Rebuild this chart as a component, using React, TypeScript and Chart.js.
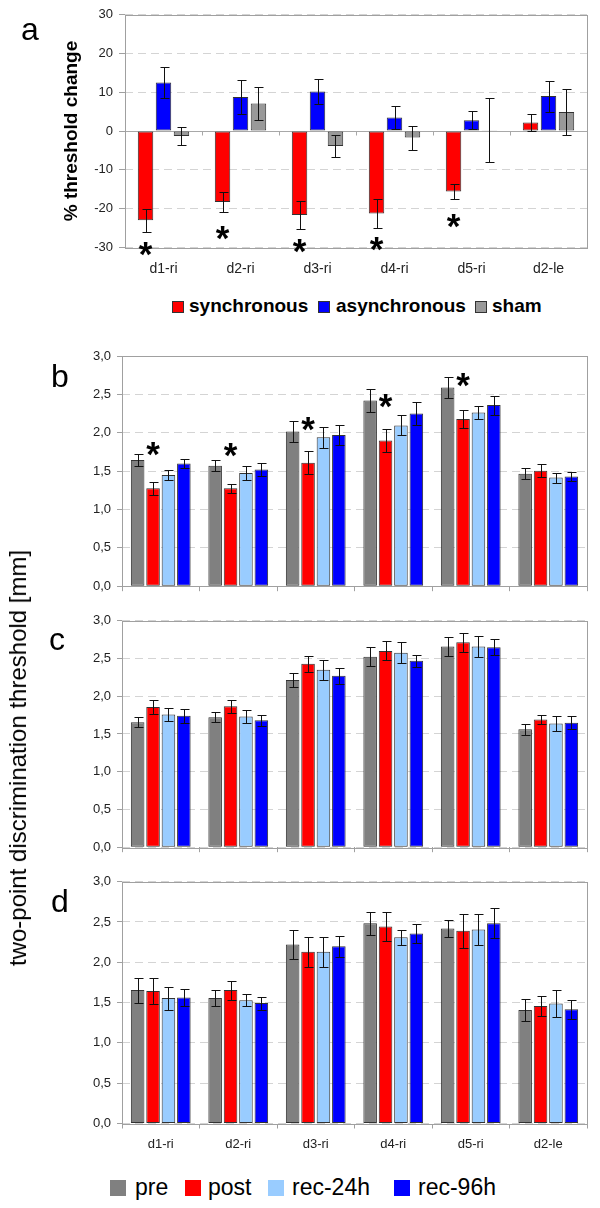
import React, { useEffect, useRef } from 'react';
import { Chart, registerables } from 'chart.js';

Chart.register(...registerables);
Chart.defaults.font.family = '"Liberation Sans", Arial, sans-serif';

// ---------- data ----------
const categories = ['d1-ri', 'd2-ri', 'd3-ri', 'd4-ri', 'd5-ri', 'd2-le'];

// panel a: % threshold change
const syncA = [-23.0, -18.3, -21.7, -21.3, -15.6, 2.2];
const syncErrA = [3.0, 2.6, 3.7, 3.8, 2.0, 2.3];
const asyncA = [12.5, 8.75, 10.2, 3.5, 2.8, 9.0];
const asyncErrA = [4.0, 4.3, 3.3, 3.0, 2.4, 4.0];
const shamA = [-1.3, 7.1, -3.9, -1.7, 0.2, 4.9];
const shamErrA = [2.3, 4.3, 2.9, 3.1, 8.2, 5.9];
const starsA = [-29.9, -25.7, -29.0, -28.5, -22.7, null];

// panel b
const preB = [1.645, 1.57, 2.015, 2.42, 2.59, 1.466];
const preErrB = [0.08, 0.075, 0.135, 0.155, 0.135, 0.075];
const postB = [1.275, 1.275, 1.61, 1.9, 2.18, 1.505];
const postErrB = [0.08, 0.06, 0.15, 0.155, 0.115, 0.085];
const rec24B = [1.45, 1.475, 1.94, 2.095, 2.265, 1.415];
const rec24ErrB = [0.06, 0.085, 0.14, 0.13, 0.08, 0.065];
const rec96B = [1.6, 1.52, 1.97, 2.25, 2.36, 1.43];
const rec96ErrB = [0.055, 0.08, 0.135, 0.145, 0.125, 0.055];
const starsB = [1.817, 1.805, 2.145, 2.443, 2.72, null];

// panel c
const preC = [1.654, 1.72, 2.216, 2.524, 2.658, 1.563];
const preErrC = [0.067, 0.065, 0.09, 0.125, 0.13, 0.075];
const postC = [1.857, 1.866, 2.43, 2.6, 2.714, 1.69];
const postErrC = [0.087, 0.083, 0.108, 0.125, 0.128, 0.063];
const rec24C = [1.758, 1.73, 2.35, 2.576, 2.658, 1.64];
const rec24ErrC = [0.087, 0.09, 0.13, 0.138, 0.133, 0.095];
const rec96C = [1.74, 1.68, 2.27, 2.47, 2.65, 1.65];
const rec96ErrC = [0.095, 0.075, 0.105, 0.08, 0.103, 0.089];

// panel d
const preD = [1.655, 1.556, 2.22, 2.485, 2.42, 1.407];
const preErrD = [0.155, 0.097, 0.177, 0.143, 0.11, 0.132];
const postD = [1.643, 1.655, 2.13, 2.443, 2.39, 1.457];
const postErrD = [0.16, 0.117, 0.186, 0.182, 0.215, 0.12];
const rec24D = [1.556, 1.53, 2.13, 2.31, 2.406, 1.49];
const rec24ErrD = [0.142, 0.072, 0.19, 0.092, 0.19, 0.163];
const rec96D = [1.564, 1.494, 2.2, 2.357, 2.485, 1.416];
const rec96ErrD = [0.105, 0.08, 0.13, 0.113, 0.185, 0.122];

const seriesA = ['synchronous', 'asynchronous', 'sham'];
const seriesBD = ['pre', 'post', 'rec-24h', 'rec-96h'];
const yTitleA = '% threshold change';
const yTitleBD = 'two-point discrimination threshold [mm]';

// ---------- styles ----------
const RED = '#FF0000';
const BLUE = '#0000FF';
const LIGHTBLUE = '#99CCFF';
const PREGRAY = '#808080';
const SHAMGRAY = '#999999';
const colorsA = [RED, BLUE, SHAMGRAY];
const colorsBD = [PREGRAY, RED, LIGHTBLUE, BLUE];
const FONT = '"Liberation Sans", Arial, sans-serif';

type Spec = {
  top: number;
  height: number;
  padTop: number;
  xHeight: number;
  yWidth: number;
  names: string[];
  colors: string[];
  values: number[][];
  errors: number[][];
  stars: (number | null)[] | null;
  starDataset: number;
  min: number;
  max: number;
  step: number;
  decimals: number;
  catPct: number;
  barPct: number;
  zeroLine: boolean;
  xLabels: boolean;
  xLabelSize: number;
  xLabelPad: number;
  bottomTicks: boolean;
  yTickLen: number;
  yTitle: string | null;
};

function makeOverlay(spec: Spec) {
  return {
    id: 'overlay',
    beforeDatasetsDraw(chart: any) {
      const { ctx, chartArea: ca, scales } = chart;
      ctx.save();
      ctx.lineWidth = 1;
      if (spec.zeroLine) {
        const y0 = Math.round(scales.y.getPixelForValue(0)) + 0.5;
        ctx.strokeStyle = '#a8a8a8';
        ctx.beginPath();
        ctx.moveTo(ca.left, y0);
        ctx.lineTo(ca.right, y0);
        const n = chart.data.labels.length;
        for (let i = 0; i <= n; i++) {
          const x = Math.round(ca.left + ((ca.right - ca.left) * i) / n) + 0.5;
          ctx.moveTo(x, y0);
          ctx.lineTo(x, y0 + 4);
        }
        ctx.stroke();
      }
      ctx.strokeStyle = '#a0a0a0';
      ctx.strokeRect(
        Math.round(ca.left) + 0.5,
        Math.round(ca.top) + 0.5,
        Math.round(ca.right - ca.left),
        Math.round(ca.bottom - ca.top)
      );
      ctx.restore();
    },
    afterDatasetsDraw(chart: any) {
      const { ctx, scales } = chart;
      const ys = scales.y;
      ctx.save();
      ctx.strokeStyle = '#111';
      ctx.lineWidth = 1;
      ctx.beginPath();
      chart.data.datasets.forEach((ds: any, di: number) => {
        const meta = chart.getDatasetMeta(di);
        const errs = spec.errors[di];
        meta.data.forEach((bar: any, j: number) => {
          const v = ds.data[j];
          const e = errs[j];
          const x = Math.round(bar.x) + 0.5;
          const yh = Math.round(ys.getPixelForValue(v + e)) + 0.5;
          const yl = Math.round(ys.getPixelForValue(v - e)) + 0.5;
          ctx.moveTo(x, yh);
          ctx.lineTo(x, yl);
          ctx.moveTo(x - 4, yh);
          ctx.lineTo(x + 5, yh);
          ctx.moveTo(x - 4, yl);
          ctx.lineTo(x + 5, yl);
        });
      });
      ctx.stroke();
      if (spec.stars) {
        const meta = chart.getDatasetMeta(spec.starDataset);
        const size = 35;
        ctx.fillStyle = '#000';
        ctx.font = `bold ${size}px ${FONT}`;
        ctx.textAlign = 'center';
        ctx.textBaseline = 'alphabetic';
        spec.stars.forEach((s, j) => {
          if (s === null) return;
          const bar = meta.data[j];
          const y = ys.getPixelForValue(s) + 0.55 * size;
          ctx.fillText('*', bar.x, y);
        });
      }
      ctx.restore();
    },
  };
}

function buildConfig(spec: Spec): any {
  return {
    type: 'bar',
    data: {
      labels: categories,
      datasets: spec.names.map((name, i) => ({
        label: name,
        data: spec.values[i],
        backgroundColor: spec.colors[i],
        borderColor: '#333333',
        borderWidth: 1,
        borderSkipped: false,
        categoryPercentage: spec.catPct,
        barPercentage: spec.barPct,
      })),
    },
    options: {
      animation: false,
      responsive: false,
      devicePixelRatio: 1,
      layout: { padding: { top: spec.padTop, right: 13, bottom: 0, left: 0 } },
      plugins: { legend: { display: false }, tooltip: { enabled: false } },
      scales: {
        x: {
          type: 'category',
          offset: true,
          border: { display: false },
          grid: {
            display: spec.bottomTicks,
            drawOnChartArea: false,
            drawTicks: spec.bottomTicks,
            tickLength: 5,
            color: '#a0a0a0',
            tickColor: '#a0a0a0',
            offset: true,
          },
          ticks: {
            display: spec.xLabels,
            padding: spec.xLabelPad,
            color: '#222',
            font: { size: spec.xLabelSize, family: FONT },
            maxRotation: 0,
            autoSkip: false,
          },
          afterFit: (s: any) => {
            s.height = spec.xHeight;
          },
        },
        y: {
          min: spec.min,
          max: spec.max,
          border: { display: false, dash: [8, 5] },
          grid: {
            color: '#d4d4d4',
            tickColor: '#a0a0a0',
            tickLength: spec.yTickLen,
            drawTicks: true,
          },
          ticks: {
            stepSize: spec.step,
            padding: 6,
            color: '#222',
            font: { size: 13, family: FONT },
            callback: (v: any) => Number(v).toFixed(spec.decimals).replace('.', ','),
          },
          title: spec.yTitle
            ? {
                display: true,
                text: spec.yTitle,
                color: '#000',
                font: { size: 19, weight: 'bold', family: FONT },
                padding: { top: 60.6, bottom: 0 },
              }
            : { display: false },
          afterFit: (s: any) => {
            s.width = spec.yWidth;
          },
        },
      },
    },
    plugins: [makeOverlay(spec)],
  };
}

function Panel({ spec }: { spec: Spec }) {
  const ref = useRef<HTMLCanvasElement | null>(null);
  useEffect(() => {
    if (!ref.current) return;
    const chart = new Chart(ref.current, buildConfig(spec));
    return () => chart.destroy();
  }, [spec]);
  return (
    <canvas
      ref={ref}
      width={600}
      height={spec.height}
      style={{ position: 'absolute', left: 0, top: spec.top, width: 600, height: spec.height }}
    />
  );
}

const common = {
  yWidth: 122,
  names: seriesBD,
  colors: colorsBD,
  starDataset: 1,
  min: 0,
  max: 3,
  step: 0.5,
  decimals: 1,
  catPct: 0.795,
  barPct: 0.88,
  zeroLine: false,
  bottomTicks: true,
  yTickLen: 5,
  yTitle: null,
};

const specA: Spec = {
  top: 0,
  height: 290,
  padTop: 14.7,
  xHeight: 42.7,
  yWidth: 125,
  names: seriesA,
  colors: colorsA,
  values: [syncA, asyncA, shamA],
  errors: [syncErrA, asyncErrA, shamErrA],
  stars: starsA,
  starDataset: 0,
  min: -30,
  max: 30,
  step: 10,
  decimals: 0,
  catPct: 0.7,
  barPct: 0.86,
  zeroLine: true,
  xLabels: true,
  xLabelSize: 14,
  xLabelPad: 13.3,
  bottomTicks: false,
  yTickLen: 6,
  yTitle: yTitleA,
};

const specB: Spec = {
  ...common,
  top: 340,
  height: 260,
  padTop: 16,
  xHeight: 9,
  values: [preB, postB, rec24B, rec96B],
  errors: [preErrB, postErrB, rec24ErrB, rec96ErrB],
  stars: starsB,
  xLabels: false,
  xLabelSize: 13,
  xLabelPad: 0,
};

const specC: Spec = {
  ...common,
  top: 605,
  height: 256,
  padTop: 15.7,
  xHeight: 9.3,
  values: [preC, postC, rec24C, rec96C],
  errors: [preErrC, postErrC, rec24ErrC, rec96ErrC],
  stars: null,
  xLabels: false,
  xLabelSize: 13,
  xLabelPad: 0,
};

const specD: Spec = {
  ...common,
  top: 866,
  height: 300,
  padTop: 15.7,
  xHeight: 42.5,
  values: [preD, postD, rec24D, rec96D],
  errors: [preErrD, postErrD, rec24ErrD, rec96ErrD],
  stars: null,
  xLabels: true,
  xLabelSize: 13,
  xLabelPad: 7.7,
};

const letterStyle = (left: number, top: number): React.CSSProperties => ({
  position: 'absolute',
  left,
  top,
  fontFamily: FONT,
  fontSize: 32,
  lineHeight: '32px',
  color: '#000',
});

const legendA = [
  { box: 172, text: 189 },
  { box: 318, text: 336 },
  { box: 475, text: 492 },
];
const legendD = [
  { box: 110, text: 135 },
  { box: 185, text: 208 },
  { box: 268, text: 292 },
  { box: 394, text: 418 },
];

export default function App() {
  return (
    <div
      style={{
        position: 'absolute',
        left: 0,
        top: 0,
        width: 600,
        height: 1208,
        background: '#fff',
        overflow: 'hidden',
      }}
    >
      <Panel spec={specA} />
      <Panel spec={specB} />
      <Panel spec={specC} />
      <Panel spec={specD} />

      <div style={letterStyle(21, 13)}>a</div>
      <div style={letterStyle(51, 360)}>b</div>
      <div style={letterStyle(49, 623)}>c</div>
      <div style={letterStyle(51, 885)}>d</div>

      <div
        style={{
          position: 'absolute',
          left: 18,
          top: 758,
          transform: 'translate(-50%, -50%) rotate(-90deg)',
          whiteSpace: 'nowrap',
          fontFamily: FONT,
          fontSize: 24,
          lineHeight: '24px',
          color: '#000',
        }}
      >
        {yTitleBD}
      </div>

      {seriesA.map((name, i) => (
        <React.Fragment key={name}>
          <div
            style={{
              position: 'absolute',
              left: legendA[i].box,
              top: 301,
              width: 10,
              height: 10,
              background: colorsA[i],
              border: '1px solid #333',
            }}
          />
          <div
            style={{
              position: 'absolute',
              left: legendA[i].text,
              top: 295.6,
              fontFamily: FONT,
              fontWeight: 'bold',
              fontSize: 19,
              lineHeight: '19px',
              whiteSpace: 'nowrap',
              color: '#000',
            }}
          >
            {name}
          </div>
        </React.Fragment>
      ))}

      {seriesBD.map((name, i) => (
        <React.Fragment key={name}>
          <div
            style={{
              position: 'absolute',
              left: legendD[i].box,
              top: 1180,
              width: 16,
              height: 16,
              background: colorsBD[i],
            }}
          />
          <div
            style={{
              position: 'absolute',
              left: legendD[i].text,
              top: 1175.5,
              fontFamily: FONT,
              fontSize: 23,
              lineHeight: '23px',
              whiteSpace: 'nowrap',
              color: '#000',
            }}
          >
            {name}
          </div>
        </React.Fragment>
      ))}
    </div>
  );
}
